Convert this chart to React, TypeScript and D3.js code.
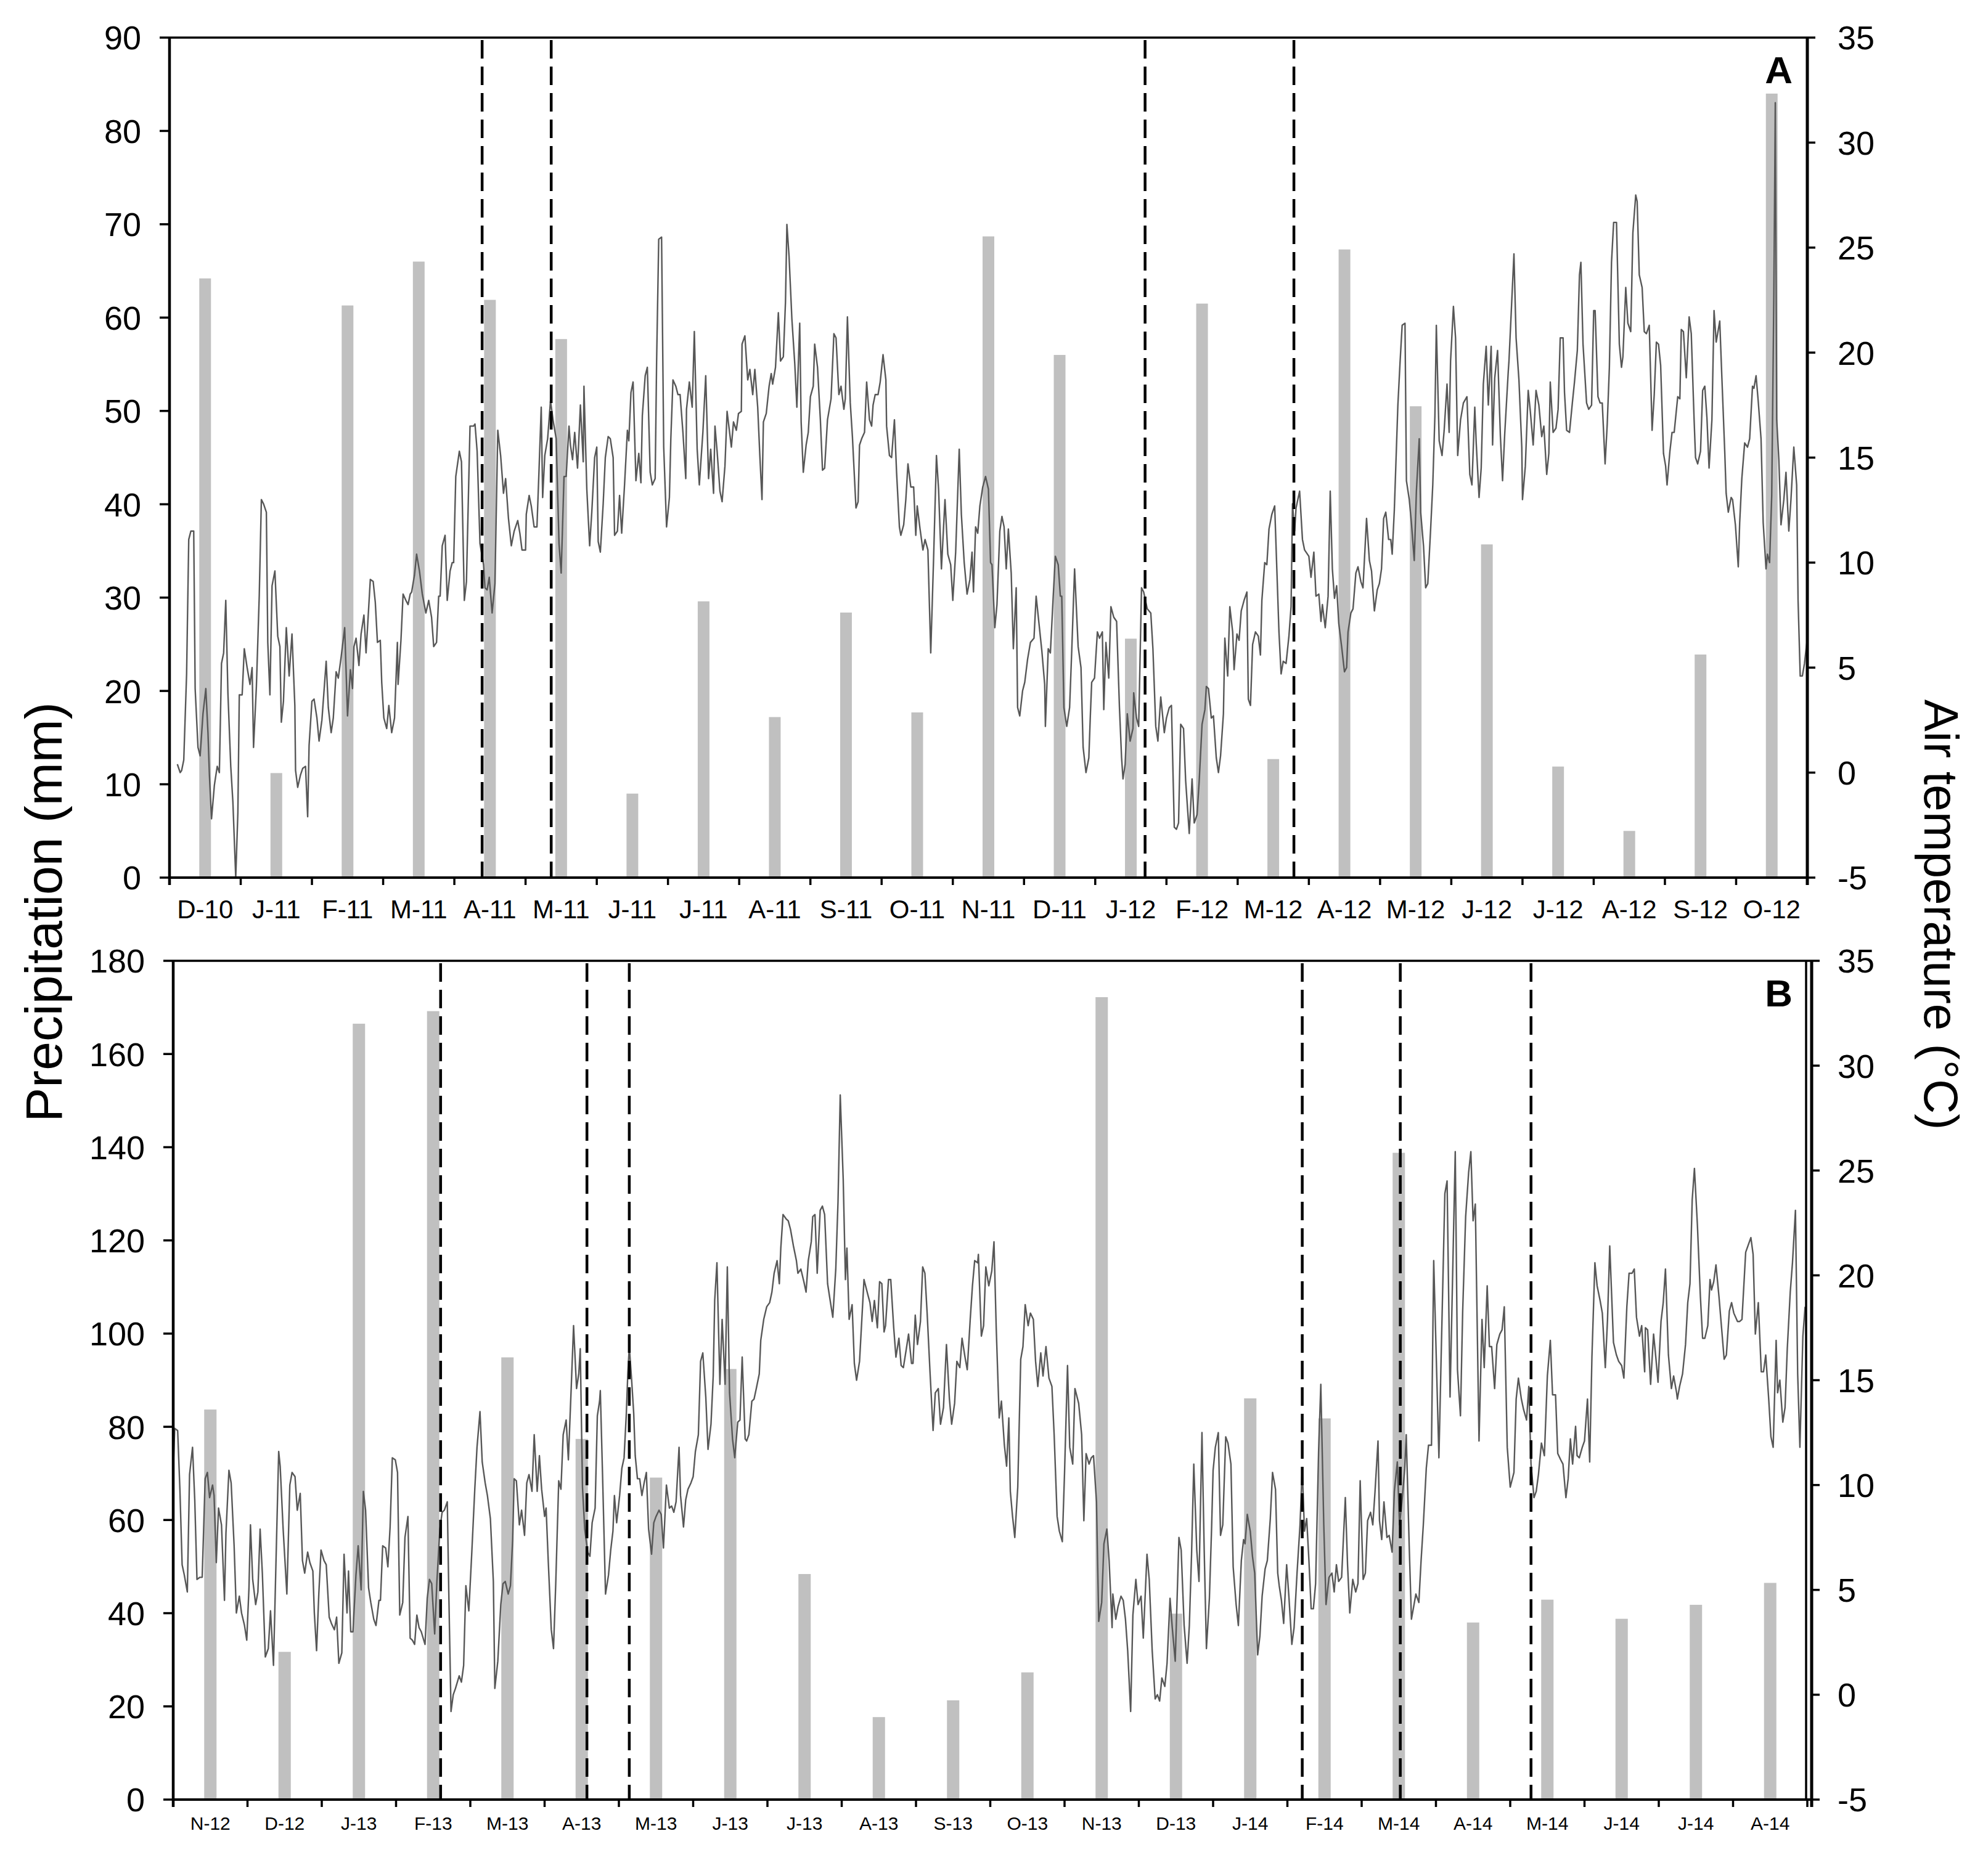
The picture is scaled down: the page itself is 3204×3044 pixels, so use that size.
import React, { useEffect } from "react";
import * as d3 from "d3";

// monthly precipitation (mm), one bar per month
const monthsA = ["D-10", "J-11", "F-11", "M-11", "A-11", "M-11", "J-11", "J-11", "A-11", "S-11", "O-11", "N-11",
  "D-11", "J-12", "F-12", "M-12", "A-12", "M-12", "J-12", "J-12", "A-12", "S-12", "O-12"];
const rainA = [64.2, 11.2, 61.3, 66.0, 61.9, 57.7, 9.0, 29.6, 17.2, 28.4, 17.7, 68.7,
  56.0, 25.6, 61.5, 12.7, 67.3, 50.5, 35.7, 11.9, 5.0, 23.9, 84.0];

const monthsB = ["N-12", "D-12", "J-13", "F-13", "M-13", "A-13", "M-13", "J-13", "J-13", "A-13", "S-13",
  "O-13", "N-13", "D-13", "J-14", "F-14", "M-14", "A-14", "M-14", "J-14", "J-14", "A-14"];
const rainB = [83.7, 31.7, 166.5, 169.2, 94.9, 77.4, 69.1, 92.4, 48.4, 17.7, 21.3,
  27.3, 172.2, 39.9, 86.1, 81.8, 138.8, 38.0, 42.9, 38.8, 41.8, 46.5];

// sampling dates (in months from the start of the axis)
const eventsA = [4.39, 5.36, 13.70, 15.79];
const eventsB = [3.60, 5.57, 6.14, 15.20, 16.52, 18.28];

const rainTicksA = [0, 10, 20, 30, 40, 50, 60, 70, 80, 90];
const rainTicksB = [0, 20, 40, 60, 80, 100, 120, 140, 160, 180];
const tempTicks = [-5, 0, 5, 10, 15, 20, 25, 30, 35];

// daily air temperature (°C), [month position, value]
const tempA: [number, number][] = [
  [0.11, 0.4], [0.15, 0.0], [0.17, 0.1], [0.20, 0.6], [0.24, 4.7], [0.27, 11.1], [0.30, 11.5], [0.34, 11.5], [0.36, 4.0], [0.40, 1.2],
  [0.43, 0.8], [0.47, 2.8], [0.51, 4.0], [0.54, 1.9], [0.56, -0.1], [0.59, -2.2], [0.63, -0.6], [0.67, 0.3], [0.70, 0.0], [0.73, 5.2],
  [0.76, 5.7], [0.79, 8.2], [0.82, 3.8], [0.86, 0.3], [0.89, -1.4], [0.93, -5.0], [0.96, -1.9], [0.98, 3.7], [1.02, 3.7], [1.05, 5.9],
  [1.09, 5.0], [1.13, 4.2], [1.16, 5.0], [1.18, 1.2], [1.22, 4.1], [1.26, 8.4], [1.29, 13.0], [1.32, 12.8], [1.36, 12.4], [1.38, 6.2],
  [1.41, 3.7], [1.44, 8.9], [1.48, 9.6], [1.52, 6.5], [1.55, 6.0], [1.57, 2.4], [1.60, 3.4], [1.64, 6.9], [1.68, 4.6], [1.72, 6.6],
  [1.76, 3.2], [1.77, 0.1], [1.80, -0.7], [1.84, -0.1], [1.87, 0.2], [1.91, 0.3], [1.94, -2.1], [1.96, 1.3], [2.00, 3.4], [2.03, 3.5],
  [2.07, 2.6], [2.10, 1.5], [2.14, 2.5], [2.20, 5.3], [2.23, 3.1], [2.27, 1.9], [2.30, 2.6], [2.34, 4.8], [2.37, 4.5], [2.41, 5.5],
  [2.46, 6.9], [2.50, 2.7], [2.54, 4.9], [2.57, 4.0], [2.59, 6.0], [2.62, 6.4], [2.66, 5.1], [2.69, 6.6], [2.73, 7.5], [2.76, 5.7],
  [2.82, 9.2], [2.86, 9.1], [2.89, 8.1], [2.92, 6.2], [2.96, 6.3], [2.98, 4.3], [3.01, 2.6], [3.05, 2.1], [3.08, 3.2], [3.12, 1.9],
  [3.16, 2.6], [3.20, 6.2], [3.21, 4.2], [3.25, 6.3], [3.28, 8.5], [3.32, 8.2], [3.35, 8.0], [3.38, 8.5], [3.40, 8.6], [3.44, 9.4],
  [3.47, 10.4], [3.51, 9.6], [3.55, 8.5], [3.60, 7.6], [3.64, 8.2], [3.68, 7.4], [3.71, 6.0], [3.75, 6.2], [3.78, 8.4], [3.80, 8.4],
  [3.83, 10.8], [3.87, 11.3], [3.90, 8.2], [3.94, 9.6], [3.97, 10.0], [3.99, 10.0], [4.02, 14.1], [4.07, 15.3], [4.10, 14.8], [4.14, 8.2],
  [4.17, 9.1], [4.22, 16.5], [4.27, 16.5], [4.29, 16.6], [4.32, 15.3], [4.36, 10.9], [4.41, 9.9], [4.43, 8.8], [4.46, 8.7], [4.49, 9.3],
  [4.53, 7.6], [4.57, 9.0], [4.61, 16.3], [4.65, 15.1], [4.69, 13.3], [4.72, 14.0], [4.76, 12.1], [4.80, 10.8], [4.84, 11.5], [4.89, 12.0],
  [4.92, 11.4], [4.95, 10.6], [5.00, 10.6], [5.01, 12.3], [5.05, 13.2], [5.08, 12.7], [5.12, 11.7], [5.16, 11.7], [5.19, 14.5], [5.22, 17.4],
  [5.24, 13.1], [5.27, 15.1], [5.31, 15.9], [5.35, 17.7], [5.39, 16.7], [5.43, 15.9], [5.47, 10.9], [5.50, 9.5], [5.54, 14.1], [5.57, 14.1],
  [5.61, 16.5], [5.63, 15.6], [5.66, 14.9], [5.69, 16.2], [5.73, 14.5], [5.77, 17.5], [5.81, 14.8], [5.82, 18.4], [5.86, 13.5], [5.90, 10.8],
  [5.93, 12.4], [5.97, 15.0], [6.00, 15.5], [6.02, 11.0], [6.05, 10.5], [6.09, 12.8], [6.12, 15.0], [6.16, 16.0], [6.19, 15.9], [6.23, 15.0],
  [6.25, 11.3], [6.29, 11.5], [6.32, 13.2], [6.35, 11.4], [6.39, 13.7], [6.43, 16.3], [6.45, 15.8], [6.48, 18.1], [6.51, 18.6], [6.55, 13.9],
  [6.59, 15.2], [6.62, 13.8], [6.64, 17.0], [6.68, 18.9], [6.71, 19.3], [6.75, 14.3], [6.78, 13.7], [6.82, 14.0], [6.84, 19.5], [6.87, 25.4],
  [6.91, 25.5], [6.94, 15.5], [6.98, 11.7], [7.02, 13.1], [7.04, 15.9], [7.07, 18.7], [7.11, 18.4], [7.14, 18.0], [7.17, 18.0], [7.21, 16.2],
  [7.25, 14.0], [7.26, 17.3], [7.30, 18.6], [7.34, 17.4], [7.37, 21.0], [7.41, 15.4], [7.44, 13.7], [7.49, 16.2], [7.53, 18.9], [7.57, 14.0],
  [7.60, 15.4], [7.64, 13.3], [7.66, 16.5], [7.69, 15.3], [7.73, 13.4], [7.76, 12.9], [7.80, 14.6], [7.83, 17.2], [7.89, 15.5], [7.92, 16.7],
  [7.96, 16.3], [7.99, 17.1], [8.03, 17.2], [8.04, 20.4], [8.08, 20.8], [8.12, 18.7], [8.15, 19.2], [8.19, 18.0], [8.22, 19.2], [8.26, 17.4],
  [8.29, 15.1], [8.32, 13.0], [8.34, 16.7], [8.38, 17.1], [8.42, 18.4], [8.45, 19.0], [8.47, 18.5], [8.51, 19.3], [8.55, 21.9], [8.58, 19.6],
  [8.62, 19.8], [8.65, 22.4], [8.67, 26.1], [8.70, 24.6], [8.74, 21.6], [8.78, 19.5], [8.81, 17.4], [8.85, 21.4], [8.87, 16.7], [8.90, 14.3],
  [8.94, 15.6], [8.97, 16.2], [9.00, 17.9], [9.04, 18.4], [9.06, 20.4], [9.10, 19.3], [9.14, 16.8], [9.17, 14.4], [9.20, 14.5], [9.24, 16.8],
  [9.29, 17.8], [9.33, 20.9], [9.36, 20.7], [9.40, 18.0], [9.43, 18.4], [9.47, 17.3], [9.49, 17.8], [9.52, 21.7], [9.56, 17.6], [9.59, 16.0],
  [9.64, 12.6], [9.67, 12.9], [9.69, 15.6], [9.72, 15.9], [9.76, 16.2], [9.79, 18.6], [9.83, 16.8], [9.86, 16.5], [9.88, 17.5], [9.91, 18.0],
  [9.95, 18.0], [9.98, 18.6], [10.02, 19.9], [10.06, 18.7], [10.07, 16.5], [10.11, 15.1], [10.14, 15.0], [10.18, 16.8], [10.21, 14.3], [10.25, 11.7],
  [10.27, 11.3], [10.31, 11.8], [10.34, 13.0], [10.37, 14.7], [10.41, 13.6], [10.45, 13.6], [10.48, 11.3], [10.50, 12.7], [10.54, 11.6], [10.58, 10.6],
  [10.61, 11.1], [10.65, 10.6], [10.69, 5.7], [10.73, 10.2], [10.77, 15.1], [10.80, 13.5], [10.84, 9.7], [10.89, 13.0], [10.93, 10.4], [10.97, 9.9],
  [11.00, 8.2], [11.04, 10.5], [11.09, 15.4], [11.12, 12.3], [11.16, 10.0], [11.20, 8.5], [11.24, 9.2], [11.27, 10.5], [11.29, 8.6], [11.32, 11.7],
  [11.35, 11.4], [11.38, 12.7], [11.42, 13.6], [11.46, 14.1], [11.50, 13.5], [11.53, 10.0], [11.55, 9.9], [11.59, 6.9], [11.62, 8.0], [11.66, 11.5],
  [11.69, 12.2], [11.72, 11.7], [11.75, 9.7], [11.78, 11.6], [11.82, 9.5], [11.85, 5.9], [11.89, 8.8], [11.91, 3.1], [11.94, 2.7], [11.98, 3.9],
  [12.01, 4.3], [12.05, 5.4], [12.09, 6.2], [12.14, 6.4], [12.17, 8.4], [12.21, 7.1], [12.25, 5.8], [12.29, 4.2], [12.30, 2.2], [12.34, 5.9],
  [12.37, 5.7], [12.41, 8.4], [12.44, 10.3], [12.48, 9.9], [12.51, 8.4], [12.53, 8.4], [12.56, 3.1], [12.60, 2.2], [12.64, 3.1], [12.67, 5.8],
  [12.71, 9.7], [12.76, 6.0], [12.80, 5.0], [12.83, 1.2], [12.87, 0.0], [12.91, 0.7], [12.93, 2.6], [12.95, 4.3], [12.99, 4.5], [13.03, 6.7],
  [13.06, 6.4], [13.10, 6.7], [13.12, 3.0], [13.15, 6.2], [13.19, 4.5], [13.22, 7.9], [13.26, 7.4], [13.30, 7.2], [13.34, 3.1], [13.37, 0.7],
  [13.39, -0.3], [13.42, 0.4], [13.45, 2.8], [13.49, 1.5], [13.53, 2.1], [13.54, 3.8], [13.58, 2.6], [13.61, 2.2], [13.65, 8.8], [13.68, 8.6],
  [13.73, 7.8], [13.78, 7.6], [13.81, 5.9], [13.85, 2.2], [13.88, 1.5], [13.92, 3.6], [13.97, 1.9], [14.00, 2.6], [14.04, 3.1], [14.07, 3.2],
  [14.11, -2.6], [14.14, -2.7], [14.17, -2.4], [14.20, 2.3], [14.24, 2.1], [14.27, -0.4], [14.32, -2.9], [14.36, -0.3], [14.39, -2.4], [14.43, -2.0],
  [14.46, -0.4], [14.50, 2.3], [14.54, 3.0], [14.56, 4.1], [14.59, 4.0], [14.63, 2.6], [14.66, 2.7], [14.70, 0.7], [14.73, 0.0], [14.76, 0.8],
  [14.80, 2.8], [14.82, 6.4], [14.86, 4.6], [14.89, 7.9], [14.93, 6.7], [14.95, 4.9], [14.99, 6.6], [15.02, 6.3], [15.05, 7.7], [15.09, 8.2],
  [15.13, 8.6], [15.15, 3.5], [15.18, 3.2], [15.21, 6.1], [15.25, 6.7], [15.29, 6.5], [15.32, 5.6], [15.34, 8.2], [15.38, 10.0], [15.41, 9.9],
  [15.44, 11.6], [15.48, 12.3], [15.52, 12.7], [15.55, 9.7], [15.58, 6.7], [15.61, 4.7], [15.64, 5.3], [15.68, 5.2], [15.72, 6.5], [15.75, 7.9],
  [15.77, 12.8], [15.80, 11.5], [15.82, 12.6], [15.87, 13.4], [15.91, 11.1], [15.94, 10.6], [16.00, 10.3], [16.03, 9.3], [16.07, 10.5], [16.10, 8.4],
  [16.14, 8.5], [16.17, 7.2], [16.19, 8.0], [16.23, 6.9], [16.27, 8.4], [16.30, 13.4], [16.33, 9.7], [16.36, 8.3], [16.39, 8.9], [16.42, 7.1],
  [16.46, 6.0], [16.50, 4.8], [16.53, 5.0], [16.55, 6.7], [16.59, 7.6], [16.62, 7.8], [16.66, 9.5], [16.69, 9.8], [16.73, 9.1], [16.76, 8.8],
  [16.81, 12.1], [16.85, 10.1], [16.88, 9.6], [16.92, 7.7], [16.96, 8.7], [16.99, 9.0], [17.02, 9.7], [17.05, 12.1], [17.08, 12.4], [17.12, 11.1],
  [17.15, 11.1], [17.17, 10.4], [17.20, 12.5], [17.25, 17.5], [17.28, 19.5], [17.31, 21.3], [17.35, 21.4], [17.37, 13.9], [17.41, 13.0], [17.44, 11.9],
  [17.48, 10.1], [17.51, 13.4], [17.55, 15.9], [17.57, 12.4], [17.61, 10.8], [17.64, 8.8], [17.67, 9.0], [17.71, 11.6], [17.74, 13.7], [17.77, 17.0],
  [17.79, 21.3], [17.83, 15.8], [17.87, 15.1], [17.90, 16.3], [17.94, 18.5], [17.97, 16.2], [17.99, 19.6], [18.03, 22.2], [18.06, 20.7], [18.09, 15.1],
  [18.13, 16.8], [18.17, 17.6], [18.22, 17.9], [18.26, 14.2], [18.29, 13.7], [18.33, 17.4], [18.35, 15.7], [18.39, 13.1], [18.42, 14.5], [18.45, 18.5],
  [18.49, 20.3], [18.52, 17.5], [18.56, 20.3], [18.58, 15.6], [18.61, 18.8], [18.65, 20.1], [18.69, 16.0], [18.72, 13.9], [18.75, 16.1], [18.80, 19.1],
  [18.81, 19.6], [18.88, 24.7], [18.91, 20.7], [18.95, 18.7], [18.99, 15.5], [19.00, 13.0], [19.04, 14.6], [19.08, 18.2], [19.11, 17.2], [19.15, 15.6],
  [19.19, 18.2], [19.23, 17.5], [19.27, 16.0], [19.30, 16.5], [19.34, 14.2], [19.37, 15.2], [19.39, 18.6], [19.43, 16.2], [19.47, 16.4], [19.50, 17.3],
  [19.53, 20.7], [19.57, 20.7], [19.59, 18.1], [19.62, 16.3], [19.66, 16.2], [19.70, 17.6], [19.73, 18.6], [19.77, 20.1], [19.80, 23.7], [19.82, 24.3],
  [19.85, 20.4], [19.90, 17.6], [19.93, 17.3], [19.97, 17.5], [20.00, 22.0], [20.02, 22.0], [20.06, 17.9], [20.09, 17.6], [20.12, 17.6], [20.16, 14.7],
  [20.19, 16.6], [20.22, 19.3], [20.25, 24.3], [20.28, 26.2], [20.32, 26.2], [20.36, 20.4], [20.39, 19.3], [20.41, 19.8], [20.45, 23.1], [20.48, 21.4],
  [20.52, 21.0], [20.55, 25.7], [20.59, 27.5], [20.61, 27.2], [20.64, 23.7], [20.68, 23.1], [20.71, 21.0], [20.74, 20.9], [20.78, 21.3], [20.82, 16.3],
  [20.85, 18.0], [20.88, 20.5], [20.91, 20.4], [20.94, 19.4], [20.98, 15.2], [21.01, 14.6], [21.03, 13.7], [21.07, 15.3], [21.10, 16.2], [21.13, 16.2],
  [21.18, 17.9], [21.21, 17.8], [21.23, 21.1], [21.26, 21.0], [21.30, 18.8], [21.34, 21.7], [21.37, 20.9], [21.41, 16.8], [21.43, 15.0], [21.46, 14.7],
  [21.50, 15.3], [21.53, 18.2], [21.56, 18.4], [21.59, 16.9], [21.62, 14.5], [21.66, 16.8], [21.69, 22.0], [21.72, 20.5], [21.77, 21.5], [21.80, 18.8],
  [21.84, 15.3], [21.86, 13.3], [21.89, 12.4], [21.93, 13.1], [21.95, 13.0], [21.99, 11.8], [22.03, 9.8], [22.05, 11.9], [22.08, 14.0], [22.12, 15.7],
  [22.16, 15.5], [22.19, 15.9], [22.23, 18.4], [22.25, 18.3], [22.28, 18.9], [22.31, 17.7], [22.35, 15.9], [22.38, 11.9], [22.42, 9.7], [22.44, 10.4],
  [22.47, 10.0], [22.50, 13.2], [22.53, 22.8], [22.55, 31.9], [22.57, 16.8], [22.60, 14.9], [22.63, 11.8], [22.67, 13.0], [22.70, 14.3], [22.74, 11.5],
  [22.77, 13.0], [22.81, 15.5], [22.85, 13.7], [22.87, 8.2], [22.90, 4.6], [22.93, 4.6], [22.96, 5.2], [23.00, 6.4],
];

const tempB: [number, number][] = [
  [0.00, 10.6], [0.02, 12.7], [0.06, 12.6], [0.09, 9.8], [0.12, 6.2], [0.15, 5.7], [0.19, 4.9], [0.22, 10.5], [0.26, 11.8], [0.29, 9.3],
  [0.32, 5.5], [0.36, 5.6], [0.39, 5.6], [0.43, 10.3], [0.46, 10.6], [0.49, 9.4], [0.53, 10.0], [0.55, 9.5], [0.58, 6.3], [0.61, 8.9],
  [0.65, 8.1], [0.69, 4.5], [0.71, 7.7], [0.75, 10.7], [0.78, 10.1], [0.82, 7.1], [0.85, 3.9], [0.89, 4.7], [0.92, 3.9], [0.96, 3.3],
  [0.99, 2.6], [1.02, 5.1], [1.04, 8.1], [1.07, 5.5], [1.11, 4.3], [1.14, 4.9], [1.17, 7.9], [1.20, 5.8], [1.24, 1.8], [1.28, 2.2],
  [1.31, 4.0], [1.35, 1.4], [1.38, 5.8], [1.42, 11.6], [1.44, 10.9], [1.48, 7.9], [1.53, 4.8], [1.57, 10.0], [1.60, 10.6], [1.64, 10.4],
  [1.67, 8.8], [1.71, 9.6], [1.74, 6.4], [1.77, 5.8], [1.81, 6.8], [1.84, 6.3], [1.88, 5.9], [1.90, 3.9], [1.93, 2.1], [1.96, 4.8],
  [1.99, 6.9], [2.03, 6.4], [2.06, 6.2], [2.10, 3.7], [2.13, 3.4], [2.17, 3.1], [2.20, 3.7], [2.23, 1.5], [2.27, 2.0], [2.30, 6.7],
  [2.34, 3.9], [2.36, 5.9], [2.39, 3.0], [2.42, 3.0], [2.46, 5.7], [2.49, 7.1], [2.53, 5.0], [2.56, 9.7], [2.59, 8.8], [2.63, 5.1],
  [2.66, 4.4], [2.70, 3.6], [2.73, 3.3], [2.77, 4.5], [2.79, 4.5], [2.82, 7.1], [2.86, 7.0], [2.89, 6.1], [2.92, 8.0], [2.95, 11.3],
  [2.99, 11.2], [3.02, 10.6], [3.05, 3.8], [3.09, 4.4], [3.12, 7.5], [3.16, 8.5], [3.19, 2.7], [3.22, 2.6], [3.25, 2.4], [3.28, 3.8],
  [3.31, 3.2], [3.34, 3.0], [3.39, 2.4], [3.42, 4.6], [3.45, 5.5], [3.48, 5.3], [3.52, 2.9], [3.55, 5.4], [3.59, 7.9], [3.62, 8.7],
  [3.65, 8.8], [3.69, 9.2], [3.71, 4.9], [3.74, -0.8], [3.77, 0.0], [3.80, 0.3], [3.85, 0.9], [3.88, 0.6], [3.91, 1.4], [3.94, 5.2],
  [3.98, 4.0], [4.02, 6.8], [4.06, 9.8], [4.09, 11.8], [4.13, 13.5], [4.16, 11.1], [4.20, 10.1], [4.23, 9.5], [4.27, 8.4], [4.31, 5.4],
  [4.33, 0.3], [4.37, 1.6], [4.41, 4.3], [4.44, 5.3], [4.47, 5.4], [4.51, 4.8], [4.54, 5.2], [4.57, 7.4], [4.59, 10.3], [4.62, 10.2],
  [4.66, 8.1], [4.69, 8.8], [4.73, 7.6], [4.76, 10.1], [4.79, 10.5], [4.83, 9.7], [4.86, 12.4], [4.90, 9.7], [4.93, 11.4], [4.96, 9.8],
  [5.00, 8.5], [5.02, 8.9], [5.05, 6.3], [5.09, 3.1], [5.12, 2.2], [5.15, 5.3], [5.19, 10.2], [5.22, 9.8], [5.25, 12.4], [5.29, 13.1],
  [5.32, 11.2], [5.36, 14.8], [5.39, 17.6], [5.43, 14.6], [5.46, 15.3], [5.48, 16.5], [5.51, 9.9], [5.54, 7.9], [5.58, 6.8], [5.61, 6.6],
  [5.64, 8.2], [5.68, 8.9], [5.71, 13.3], [5.74, 14.0], [5.75, 14.5], [5.78, 10.5], [5.82, 4.8], [5.86, 5.7], [5.89, 6.9], [5.92, 7.8],
  [5.94, 9.5], [5.97, 8.2], [6.01, 9.5], [6.04, 10.8], [6.07, 11.3], [6.10, 13.4], [6.12, 15.3], [6.14, 16.6], [6.17, 15.1], [6.20, 13.4],
  [6.22, 11.4], [6.25, 10.3], [6.28, 10.3], [6.31, 9.5], [6.34, 10.1], [6.37, 10.6], [6.40, 7.9], [6.44, 6.7], [6.47, 8.2], [6.50, 8.5],
  [6.54, 8.8], [6.57, 8.6], [6.60, 7.0], [6.64, 10.0], [6.68, 8.9], [6.71, 9.0], [6.74, 8.7], [6.77, 9.2], [6.81, 11.8], [6.83, 9.5],
  [6.87, 8.0], [6.90, 9.3], [6.93, 9.8], [6.97, 10.1], [7.00, 10.4], [7.03, 11.6], [7.07, 12.4], [7.10, 15.9], [7.13, 16.3], [7.17, 14.2],
  [7.20, 11.7], [7.24, 12.9], [7.27, 15.2], [7.29, 18.8], [7.32, 20.6], [7.36, 14.8], [7.39, 17.9], [7.43, 14.8], [7.46, 20.4], [7.49, 14.4],
  [7.53, 12.2], [7.56, 11.3], [7.60, 13.0], [7.63, 13.1], [7.66, 16.1], [7.70, 12.2], [7.72, 12.1], [7.75, 12.4], [7.79, 14.0], [7.82, 14.1],
  [7.85, 14.6], [7.89, 15.3], [7.91, 16.9], [7.95, 17.9], [7.99, 18.5], [8.03, 18.7], [8.06, 19.2], [8.09, 20.1], [8.13, 20.7], [8.16, 19.6],
  [8.18, 21.3], [8.21, 22.9], [8.25, 22.7], [8.28, 22.6], [8.31, 22.2], [8.35, 21.4], [8.39, 20.7], [8.41, 20.1], [8.45, 20.3], [8.49, 19.7],
  [8.52, 19.2], [8.55, 20.7], [8.59, 21.6], [8.61, 22.8], [8.64, 22.9], [8.67, 20.1], [8.71, 23.1], [8.74, 23.3], [8.77, 22.9], [8.81, 19.6],
  [8.84, 18.9], [8.88, 18.0], [8.92, 20.3], [8.95, 23.5], [8.98, 28.6], [9.02, 24.6], [9.05, 19.8], [9.07, 21.3], [9.10, 17.9], [9.14, 18.6],
  [9.17, 15.8], [9.20, 15.0], [9.24, 15.9], [9.30, 19.8], [9.35, 19.1], [9.38, 18.7], [9.41, 17.8], [9.44, 18.8], [9.48, 17.5], [9.51, 19.7],
  [9.54, 19.6], [9.57, 17.3], [9.59, 17.6], [9.63, 19.8], [9.66, 19.8], [9.70, 17.5], [9.73, 16.1], [9.77, 17.0], [9.80, 15.7], [9.83, 15.6],
  [9.87, 16.5], [9.90, 17.2], [9.94, 15.8], [9.96, 15.8], [9.99, 18.1], [10.02, 16.7], [10.06, 17.8], [10.09, 20.4], [10.12, 20.1], [10.15, 18.2],
  [10.19, 15.3], [10.23, 12.6], [10.26, 14.4], [10.30, 14.6], [10.33, 12.9], [10.37, 13.7], [10.41, 16.7], [10.45, 14.1], [10.48, 12.9], [10.52, 13.9],
  [10.55, 15.9], [10.59, 15.6], [10.62, 17.0], [10.66, 16.1], [10.69, 15.5], [10.73, 17.9], [10.76, 19.5], [10.79, 20.7], [10.83, 20.6], [10.84, 21.0],
  [10.88, 17.1], [10.91, 17.6], [10.94, 20.4], [10.98, 19.5], [11.02, 20.2], [11.05, 21.6], [11.08, 17.5], [11.12, 13.2], [11.15, 14.0], [11.19, 11.9],
  [11.22, 10.9], [11.25, 13.2], [11.27, 9.7], [11.30, 8.5], [11.33, 7.5], [11.37, 9.9], [11.41, 16.0], [11.44, 16.6], [11.47, 18.6], [11.51, 17.6],
  [11.54, 18.2], [11.58, 17.9], [11.61, 15.9], [11.64, 14.7], [11.68, 16.3], [11.71, 15.2], [11.75, 16.6], [11.79, 15.1], [11.83, 14.7], [11.86, 12.4],
  [11.90, 8.5], [11.93, 7.8], [11.97, 7.3], [12.00, 10.6], [12.04, 15.7], [12.07, 11.8], [12.11, 11.0], [12.14, 14.6], [12.19, 13.9], [12.23, 12.4],
  [12.26, 8.3], [12.29, 11.5], [12.33, 11.0], [12.36, 11.3], [12.39, 11.4], [12.43, 9.2], [12.46, 3.5], [12.50, 4.4], [12.53, 7.2], [12.57, 7.9],
  [12.60, 6.4], [12.64, 3.2], [12.65, 4.8], [12.69, 3.6], [12.72, 4.2], [12.76, 4.7], [12.79, 4.5], [12.82, 3.6], [12.85, 2.1], [12.89, -0.8],
  [12.92, 3.8], [12.96, 5.5], [12.99, 4.3], [13.03, 4.7], [13.06, 2.7], [13.11, 6.7], [13.14, 5.5], [13.18, 2.1], [13.22, -0.2], [13.25, 0.0],
  [13.28, -0.3], [13.31, 0.8], [13.35, 0.4], [13.38, 1.5], [13.42, 4.6], [13.45, 3.2], [13.49, 1.6], [13.54, 7.5], [13.57, 6.9], [13.61, 3.3],
  [13.65, 1.5], [13.68, 3.3], [13.71, 6.7], [13.74, 11.0], [13.78, 6.9], [13.81, 5.4], [13.85, 12.5], [13.88, 6.9], [13.91, 2.2], [13.95, 4.6],
  [13.98, 8.0], [14.00, 10.7], [14.03, 11.8], [14.07, 12.5], [14.10, 7.6], [14.13, 8.1], [14.17, 12.3], [14.20, 12.0], [14.24, 11.0], [14.27, 6.1],
  [14.31, 4.3], [14.34, 3.3], [14.38, 6.4], [14.41, 7.4], [14.43, 7.2], [14.46, 8.6], [14.50, 7.8], [14.53, 6.6], [14.56, 5.8], [14.60, 1.9],
  [14.63, 2.8], [14.66, 4.7], [14.70, 6.0], [14.73, 6.4], [14.77, 8.4], [14.80, 10.6], [14.84, 9.8], [14.87, 5.8], [14.89, 5.2], [14.92, 4.5],
  [14.95, 3.4], [14.99, 6.2], [15.02, 4.7], [15.06, 2.4], [15.09, 3.2], [15.13, 5.8], [15.17, 8.1], [15.20, 10.8], [15.23, 7.8], [15.26, 8.4],
  [15.29, 6.4], [15.32, 4.1], [15.35, 4.1], [15.38, 5.3], [15.42, 11.6], [15.45, 14.8], [15.49, 8.1], [15.52, 4.3], [15.56, 5.6], [15.60, 5.8],
  [15.63, 4.9], [15.66, 6.2], [15.69, 5.4], [15.73, 5.6], [15.78, 9.4], [15.81, 6.2], [15.84, 3.9], [15.88, 5.5], [15.92, 4.9], [15.95, 5.3],
  [15.98, 10.2], [16.02, 5.5], [16.05, 5.8], [16.08, 8.3], [16.12, 8.7], [16.15, 8.1], [16.18, 9.7], [16.22, 12.1], [16.24, 8.3], [16.27, 7.4],
  [16.30, 9.2], [16.34, 7.5], [16.37, 7.6], [16.41, 6.8], [16.44, 9.7], [16.48, 11.1], [16.51, 8.1], [16.55, 9.5], [16.58, 10.8], [16.60, 12.4],
  [16.64, 7.1], [16.67, 3.6], [16.70, 4.2], [16.73, 4.8], [16.77, 4.4], [16.80, 6.4], [16.83, 8.1], [16.87, 10.8], [16.90, 11.9], [16.94, 11.9],
  [16.97, 20.7], [17.04, 11.3], [17.07, 16.1], [17.12, 23.9], [17.15, 24.5], [17.19, 14.2], [17.26, 25.9], [17.29, 15.5], [17.33, 13.3], [17.36, 18.3],
  [17.40, 22.8], [17.44, 24.9], [17.47, 25.9], [17.50, 22.6], [17.53, 23.4], [17.58, 12.1], [17.62, 17.9], [17.65, 15.6], [17.69, 19.5], [17.72, 16.6],
  [17.75, 16.6], [17.79, 14.6], [17.82, 16.7], [17.86, 17.2], [17.89, 17.4], [17.92, 18.5], [17.96, 11.8], [18.00, 9.9], [18.05, 10.6], [18.08, 14.1],
  [18.11, 15.1], [18.15, 14.1], [18.18, 13.6], [18.22, 13.1], [18.25, 14.7], [18.28, 11.0], [18.32, 9.4], [18.35, 9.7], [18.38, 10.5], [18.42, 12.0],
  [18.46, 11.4], [18.50, 15.2], [18.54, 16.9], [18.57, 14.3], [18.61, 14.3], [18.64, 11.5], [18.68, 11.2], [18.71, 11.0], [18.75, 9.4], [18.78, 10.3],
  [18.81, 12.2], [18.84, 11.0], [18.88, 12.8], [18.90, 11.4], [18.93, 11.3], [18.97, 11.8], [19.00, 12.1], [19.04, 14.1], [19.07, 11.1], [19.10, 16.1],
  [19.14, 20.6], [19.17, 19.5], [19.21, 18.8], [19.24, 18.2], [19.28, 15.6], [19.31, 17.9], [19.34, 21.4], [19.39, 16.8], [19.43, 16.2], [19.46, 15.9],
  [19.50, 15.7], [19.53, 15.1], [19.57, 18.5], [19.60, 20.1], [19.64, 20.1], [19.67, 20.3], [19.70, 18.0], [19.74, 17.1], [19.77, 17.6], [19.81, 15.4],
  [19.82, 17.5], [19.85, 17.4], [19.89, 14.8], [19.93, 17.2], [19.96, 16.1], [19.99, 14.9], [20.03, 17.8], [20.06, 18.7], [20.09, 20.3], [20.13, 16.2],
  [20.17, 14.6], [20.20, 15.2], [20.24, 14.4], [20.25, 14.1], [20.28, 14.7], [20.32, 15.3], [20.36, 16.7], [20.39, 18.7], [20.42, 19.6], [20.45, 23.6],
  [20.48, 25.1], [20.52, 22.4], [20.56, 19.0], [20.59, 17.0], [20.62, 17.0], [20.66, 17.6], [20.69, 19.8], [20.71, 19.3], [20.74, 19.7], [20.77, 20.5],
  [20.81, 19.0], [20.85, 17.3], [20.88, 16.0], [20.91, 16.2], [20.95, 18.3], [20.98, 18.7], [21.01, 18.2], [21.06, 17.8], [21.09, 17.8], [21.12, 17.9],
  [21.17, 21.1], [21.24, 21.8], [21.27, 21.0], [21.30, 17.2], [21.34, 18.7], [21.38, 15.4], [21.41, 15.4], [21.44, 16.2], [21.48, 14.1], [21.51, 12.3],
  [21.54, 11.8], [21.58, 16.9], [21.60, 14.4], [21.63, 15.0], [21.67, 13.0], [21.70, 13.7], [21.73, 16.5], [21.77, 19.2], [21.80, 20.6], [21.84, 23.1],
  [21.87, 15.3], [21.90, 11.8], [21.94, 17.1], [21.97, 18.5],
];

const FONT = "'Liberation Sans', Arial, Helvetica, sans-serif";

const panelA = {
  months: monthsA, rain: rainA, temp: tempA, events: eventsA, rainTicks: rainTicksA, rainMax: 90,
  left: 275, right: 2932, top: 61, bottom: 1424, letter: "A", labelSize: 42, labelGap: 66, barW: 19, frameRight: false,
};
const panelB = {
  months: monthsB, rain: rainB, temp: tempB, events: eventsB, rainTicks: rainTicksB, rainMax: 180,
  left: 281, right: 2932, top: 1559, bottom: 2920, letter: "B", labelSize: 30, labelGap: 49, barW: 20, frameRight: true,
};

function Panel({ p }: { p: typeof panelA }) {
  const x = d3.scaleLinear().domain([0, p.months.length]).range([p.left, p.right]);
  const band = d3.scaleBand().domain(p.months.map((_, i) => String(i))).range([p.left, p.right]);
  const yRain = d3.scaleLinear().domain([0, p.rainMax]).range([p.bottom, p.top]);
  const yTemp = d3.scaleLinear().domain([-5, 35]).range([p.bottom, p.top]);
  const line = d3.line<[number, number]>().x(d => x(d[0])).y(d => yTemp(d[1]));
  const axisX = p.frameRight ? p.right + 7 : p.right;
  const boundaries = d3.range(p.months.length + 1);

  return (
    <g>
      {p.rain.map((v, i) => (
        <rect key={"b" + i} x={band(String(i))! + band.bandwidth() / 2 - p.barW / 2} y={yRain(v)}
          width={p.barW} height={yRain(0) - yRain(v)} fill="#c0c0c0" />
      ))}
      <path d={line(p.temp)!} fill="none" stroke="#575757" strokeWidth={2.4} strokeLinejoin="round" />
      {p.events.map((e, i) => (
        <line key={"e" + i} x1={x(e)} x2={x(e)} y1={p.top + 4} y2={p.bottom}
          stroke="#000" strokeWidth={4.5} strokeDasharray="30 13" />
      ))}

      {/* frame and axes */}
      <line x1={p.left} x2={axisX} y1={p.top} y2={p.top} stroke="#000" strokeWidth={3.5} />
      <line x1={p.left} x2={p.left} y1={p.top} y2={p.bottom + 12} stroke="#000" strokeWidth={4.5} />
      <line x1={p.left} x2={axisX} y1={p.bottom} y2={p.bottom} stroke="#000" strokeWidth={4} />
      {p.frameRight && <line x1={p.right - 2} x2={p.right - 2} y1={p.top} y2={p.bottom} stroke="#000" strokeWidth={3.5} />}
      <line x1={axisX} x2={axisX} y1={p.top} y2={p.bottom + 12} stroke="#000" strokeWidth={5} />

      {p.rainTicks.map(t => (
        <g key={"l" + t}>
          <line x1={p.left - 16} x2={p.left} y1={yRain(t)} y2={yRain(t)} stroke="#000" strokeWidth={3.5} />
          <text x={p.left - 46} y={yRain(t)} dy="0.36em" textAnchor="end" fontSize={54} fontFamily={FONT}>{t}</text>
        </g>
      ))}
      {tempTicks.map(t => (
        <g key={"r" + t}>
          <line x1={axisX} x2={axisX + 13} y1={yTemp(t)} y2={yTemp(t)} stroke="#000" strokeWidth={3.5} />
          <text x={2981} y={yTemp(t)} dy="0.36em" textAnchor="start" fontSize={54} fontFamily={FONT}>{t}</text>
        </g>
      ))}
      {boundaries.map(k => (
        <line key={"t" + k} x1={x(k)} x2={x(k)} y1={p.bottom} y2={p.bottom + 12} stroke="#000" strokeWidth={3.5} />
      ))}
      {p.months.map((m, i) => (
        <text key={"m" + i} x={band(String(i))! + band.bandwidth() / 2} y={p.bottom + p.labelGap}
          textAnchor="middle" fontSize={p.labelSize} fontFamily={FONT}>{m}</text>
      ))}
      <text x={2908} y={p.top + 74} textAnchor="end" fontSize={62} fontWeight="bold" fontFamily={FONT}>{p.letter}</text>
    </g>
  );
}

export default function App() {
  useEffect(() => {
    document.body.style.margin = "0";
  }, []);

  return (
    <svg width={3204} height={3044} style={{ display: "block", background: "#fff" }}>
      <rect x={0} y={0} width={3204} height={3044} fill="#fff" />
      <Panel p={panelA} />
      <Panel p={panelB} />
      <text transform="translate(100,1480) rotate(-90)" textAnchor="middle" fontSize={84} fontFamily={FONT}>
        Precipitation (mm)
      </text>
      <text transform="translate(3122,1484) rotate(90)" textAnchor="middle" fontSize={78} fontFamily={FONT}>
        Air temperature (°C)
      </text>
    </svg>
  );
}
